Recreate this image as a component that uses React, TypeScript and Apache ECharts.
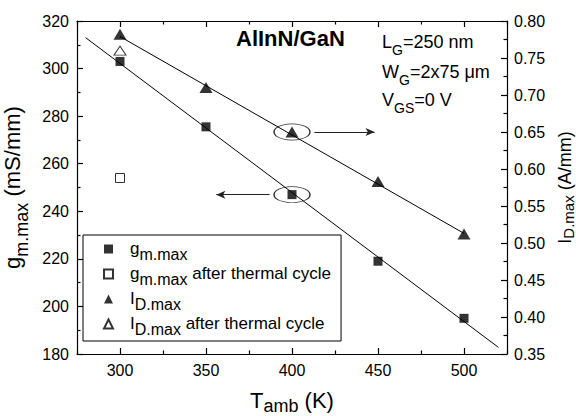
import { useEffect, useRef } from 'react';
import * as echarts from 'echarts';

const FONT = "'Liberation Sans', Arial, Helvetica, sans-serif";

// ---- data ----
const temps = [300, 350, 400, 450, 500];
const gmMax = [303, 275.5, 247, 219, 195];
const idMax = [0.782, 0.71, 0.65, 0.583, 0.512];
const afterTemp = [300];
const gmAfter = [254];
const idAfter = [0.76];
const gmFitT = [280, 520];
const gmFitV = [313, 182.8];
const idFitT = [300, 500];
const idFitV = [0.779, 0.513];
const xMajorTicks = [300, 350, 400, 450, 500];
const markT = 400;
const gmMark = 247;
const idMark = 0.65;
const gmArrowT = [387, 356];
const idArrowT = [413, 448];

const X_MIN = 275;
const X_MAX = 525;

const pairs = (xs: number[], ys: number[]) => xs.map((x, i) => [x, ys[i]]);

const axisLineStyle = { color: '#000', width: 1.2 };

const nameRich = {
  b: { fontSize: 22, fontFamily: FONT, color: '#000', lineHeight: 26, verticalAlign: 'top' },
  s: { fontSize: 18, fontFamily: FONT, color: '#000', lineHeight: 18, padding: [12, 0, 0, 0], verticalAlign: 'top' },
};

const xNameRich = {
  b: { fontSize: 22, fontFamily: FONT, color: '#000', lineHeight: 22, verticalAlign: 'top' },
  s: { fontSize: 18, fontFamily: FONT, color: '#000', lineHeight: 18, padding: [8, 0, 0, 0], verticalAlign: 'top' },
};

const rightNameRich = {
  b: { fontSize: 18, fontFamily: FONT, color: '#000', lineHeight: 18, verticalAlign: 'top' },
  s: { fontSize: 15, fontFamily: FONT, color: '#000', lineHeight: 15, padding: [5, 0, 0, 0], verticalAlign: 'top' },
};

const legendRich = {
  b: { fontSize: 17, fontFamily: FONT, color: '#000', lineHeight: 18, verticalAlign: 'top' },
  s: { fontSize: 16, fontFamily: FONT, color: '#000', lineHeight: 16, padding: [6, 0, 0, 0], verticalAlign: 'top' },
};

const legendLabels: Record<string, string> = {
  gm: '{b|g}{s|m.max}',
  gmc: '{b|g}{s|m.max}{b| after thermal cycle}',
  id: '{b|I}{s|D.max}',
  idc: '{b|I}{s|D.max}{b| after thermal cycle}',
};

const infoRich = {
  b: { fontSize: 18, fontFamily: FONT, fill: '#000', lineHeight: 22, verticalAlign: 'top' },
  s: { fontSize: 14, fontFamily: FONT, fill: '#000', lineHeight: 14, padding: [10, 0, 0, 0], verticalAlign: 'top' },
};

const xBase = { type: 'value', min: X_MIN, max: X_MAX, splitLine: { show: false } };

const option = {
  animation: false,
  backgroundColor: '#fff',
  textStyle: { fontFamily: FONT },
  grid: { left: 77, right: 69, top: 21, bottom: 62, containLabel: false, outerBoundsMode: 'none' },
  legend: {
    data: [
      { name: 'gm', icon: 'rect' },
      { name: 'gmc', icon: 'rect' },
      { name: 'id', icon: 'triangle' },
      { name: 'idc', icon: 'triangle' },
    ],
    orient: 'vertical',
    left: 83,
    top: 235,
    itemWidth: 9,
    itemHeight: 9,
    itemGap: 3,
    padding: [5, 10, 4, 20],
    borderColor: '#000',
    borderWidth: 1,
    formatter: (n: string) => legendLabels[n],
    textStyle: { padding: [0, 0, 0, 12], rich: legendRich },
  },
  graphic: [
    { type: 'text', left: 236, top: 27, style: { text: 'AlInN/GaN', font: `bold 22px ${FONT}`, fill: '#000' } },
    { type: 'text', left: 382, top: 33, style: { text: '{b|L}{s|G}{b|=250 nm}', rich: infoRich } },
    { type: 'text', left: 382, top: 63, style: { text: '{b|W}{s|G}{b|=2x75 μm}', rich: infoRich } },
    { type: 'text', left: 382, top: 91, style: { text: '{b|V}{s|GS}{b|=0 V}', rich: infoRich } },
  ],
  xAxis: [
    {
      ...xBase,
      position: 'bottom',
      axisLine: { show: true, onZero: false, lineStyle: axisLineStyle },
      axisTick: { show: true, inside: true, length: 6, customValues: xMajorTicks, lineStyle: axisLineStyle },
      axisLabel: { customValues: xMajorTicks, margin: 8, fontSize: 16, color: '#000', fontFamily: FONT },
      name: '{b|T}{s|amb}{b| (K)}',
      nameLocation: 'middle',
      nameGap: 35,
      nameTextStyle: { rich: xNameRich },
    },
    {
      ...xBase,
      position: 'bottom',
      interval: 50,
      axisLine: { show: false },
      axisTick: { show: true, inside: true, length: 3.5, lineStyle: axisLineStyle },
      axisLabel: { show: false },
    },
    {
      ...xBase,
      position: 'top',
      axisLine: { show: true, onZero: false, lineStyle: axisLineStyle },
      axisTick: { show: true, inside: true, length: 6, customValues: xMajorTicks, lineStyle: axisLineStyle },
      axisLabel: { show: false },
    },
    {
      ...xBase,
      position: 'top',
      interval: 50,
      axisLine: { show: false },
      axisTick: { show: true, inside: true, length: 3.5, lineStyle: axisLineStyle },
      axisLabel: { show: false },
    },
  ],
  yAxis: [
    {
      type: 'value',
      position: 'left',
      min: 180,
      max: 320,
      interval: 20,
      splitLine: { show: false },
      axisLine: { show: true, onZero: false, lineStyle: axisLineStyle },
      axisTick: { show: true, inside: true, length: 6, lineStyle: axisLineStyle },
      minorTick: { show: true, splitNumber: 2, length: 3.5, lineStyle: axisLineStyle },
      axisLabel: { margin: 8, fontSize: 16, color: '#000', fontFamily: FONT },
      name: '{b|g}{s|m.max}{b| (mS/mm)}',
      nameLocation: 'middle',
      nameRotate: 90,
      nameGap: 41,
      nameTextStyle: { rich: nameRich },
    },
    {
      type: 'value',
      position: 'right',
      min: 0.35,
      max: 0.8,
      interval: 0.05,
      splitLine: { show: false },
      axisLine: { show: true, onZero: false, lineStyle: axisLineStyle },
      axisTick: { show: true, inside: true, length: 6, lineStyle: axisLineStyle },
      minorTick: { show: true, splitNumber: 2, length: 3.5, lineStyle: axisLineStyle },
      axisLabel: { margin: 7, fontSize: 16, color: '#000', fontFamily: FONT, formatter: (v: number) => v.toFixed(2) },
      name: '{b|I}{s|D.max}{b| (A/mm)}',
      nameLocation: 'middle',
      nameRotate: 90,
      nameGap: 41,
      nameTextStyle: { rich: rightNameRich },
    },
  ],
  series: [
    {
      type: 'line',
      xAxisIndex: 0,
      yAxisIndex: 0,
      data: pairs(gmFitT, gmFitV),
      showSymbol: false,
      lineStyle: { color: '#000', width: 1 },
      z: 1,
      silent: true,
    },
    {
      type: 'line',
      xAxisIndex: 0,
      yAxisIndex: 1,
      data: pairs(idFitT, idFitV),
      showSymbol: false,
      lineStyle: { color: '#000', width: 1 },
      z: 1,
      silent: true,
    },
    {
      name: 'gm',
      type: 'scatter',
      xAxisIndex: 0,
      yAxisIndex: 0,
      symbol: 'rect',
      symbolSize: 9,
      itemStyle: { color: '#000' },
      data: pairs(temps, gmMax),
      z: 3,
    },
    {
      name: 'gmc',
      type: 'scatter',
      xAxisIndex: 0,
      yAxisIndex: 0,
      symbol: 'rect',
      symbolSize: 9,
      itemStyle: { color: '#fff', borderColor: '#000', borderWidth: 1 },
      data: pairs(afterTemp, gmAfter),
      z: 3,
    },
    {
      name: 'id',
      type: 'scatter',
      xAxisIndex: 0,
      yAxisIndex: 1,
      symbol: 'triangle',
      symbolSize: [13, 11],
      itemStyle: { color: '#000' },
      data: pairs(temps, idMax),
      z: 3,
    },
    {
      name: 'idc',
      type: 'scatter',
      xAxisIndex: 0,
      yAxisIndex: 1,
      symbol: 'triangle',
      symbolSize: [12, 9],
      itemStyle: { color: '#fff', borderColor: '#000', borderWidth: 1 },
      data: pairs(afterTemp, idAfter),
      z: 3,
    },
    {
      type: 'scatter',
      xAxisIndex: 0,
      yAxisIndex: 0,
      symbol: 'circle',
      symbolSize: [36, 16],
      itemStyle: { color: 'rgba(0,0,0,0)', borderColor: '#000', borderWidth: 1 },
      data: [[markT, gmMark]],
      z: 2,
      silent: true,
      markLine: {
        silent: true,
        symbol: ['none', 'arrow'],
        symbolSize: [6, 9],
        label: { show: false },
        lineStyle: { color: '#222', width: 1, type: 'solid' },
        data: [[{ coord: [gmArrowT[0], gmMark] }, { coord: [gmArrowT[1], gmMark] }]],
      },
    },
    {
      type: 'scatter',
      xAxisIndex: 0,
      yAxisIndex: 1,
      symbol: 'circle',
      symbolSize: [36, 16],
      itemStyle: { color: 'rgba(0,0,0,0)', borderColor: '#000', borderWidth: 1 },
      data: [[markT, idMark]],
      z: 2,
      silent: true,
      markLine: {
        silent: true,
        symbol: ['none', 'arrow'],
        symbolSize: [6, 9],
        label: { show: false },
        lineStyle: { color: '#222', width: 1, type: 'solid' },
        data: [[{ coord: [idArrowT[0], idMark] }, { coord: [idArrowT[1], idMark] }]],
      },
    },
  ],
};

export default function App() {
  const ref = useRef<HTMLDivElement>(null);
  useEffect(() => {
    document.body.style.margin = '0';
    const chart = echarts.init(ref.current!, null, { renderer: 'svg' });
    chart.setOption(option as any);
    return () => chart.dispose();
  }, []);
  return <div ref={ref} style={{ width: 576, height: 416 }} />;
}
